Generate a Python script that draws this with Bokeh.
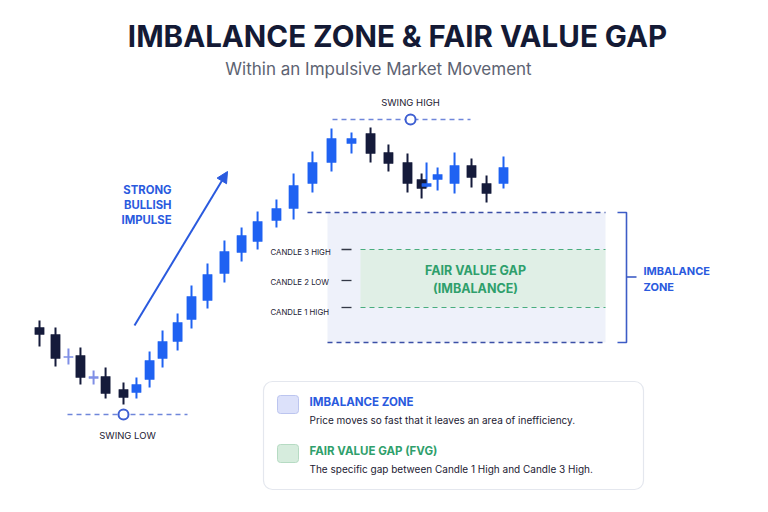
from bokeh.plotting import figure
from bokeh.models import Range1d, Label, Arrow, NormalHead, ColumnDataSource
from bokeh.embed import file_html
from bokeh.resources import INLINE

# ---------------- data ----------------
times = [0, 1, 1.81, 2.56, 3.38, 4.13, 5.25, 6.06, 6.88, 7.69, 8.63, 9.5, 10.5, 11.56,
         12.63, 13.63, 14.81, 15.88, 17.06, 18.25, 19.5, 20.69, 21.81, 23, 23.88, 24.19,
         24.88, 25.94, 27, 27.94, 29]
opens = [185, 178, 155, 157, 134, 136, 123, 120, 133, 154, 171, 193, 212, 239, 260, 271,
         292, 304, 329, 350, 369, 379, 360, 350, 333, 326, 333, 329, 347, 329, 329]
highs = [192, 185, 164, 165, 142, 145, 130, 135, 161, 182, 199, 227, 249, 272, 285, 301,
         313, 339, 361, 384, 380, 385, 368, 359, 339, 350, 345, 360, 354, 337, 356]
lows = [166, 146, 148, 128, 128, 114, 108, 114, 125, 145, 162, 184, 204, 230, 251, 263,
        285, 293, 320, 341, 359, 350, 341, 320, 314, 325, 322, 319, 325, 310, 324]
closes = [178, 154, 156, 135, 136, 119, 115, 128, 152, 171, 190, 216, 238, 261, 277, 291,
          304, 327, 350, 374, 374, 359, 349, 329, 324, 329, 338, 347, 335, 319, 345]
kinds = ["bear", "bear", "doji", "bear", "doji", "bear", "bear", "bull", "bull", "bull",
         "bull", "bull", "bull", "bull", "bull", "bull", "bull", "bull", "bull", "bull",
         "bull", "bear", "bear", "bear", "bear", "bull", "bull", "bull", "bear", "bear", "bull"]

imbalance_zone = [300, 170]   # top, bottom price
fvg_zone = [263, 205]         # candle 3 high, candle 1 high
candle2_low = 232
swing_high = [23.19, 393]     # time, price
swing_low = [5.25, 98]

title = "IMBALANCE ZONE & FAIR VALUE GAP"
subtitle = "Within an Impulsive Market Movement"

# ---------------- layout helpers (reference pixel -> data) ----------------
def X(px):
    return (px - 39) / 16.0

def Y(py):
    return 512 - py

BULL = "#1f62f2"
BEAR = "#151b3b"
DOJI = "#7f8fe6"
BLUE_TXT = "#2a5ade"
GREEN_TXT = "#2f9f6c"
DARK = "#1c2133"
FONT = "Inter"

p = figure(width=752, height=496, x_range=Range1d(X(0), X(752)), y_range=Range1d(Y(496), Y(0)),
           x_axis_type=None, y_axis_type=None, toolbar_location=None, output_backend="svg",
           min_border=0, outline_line_color=None)
p.background_fill_color = "white"
p.border_fill_color = "white"
p.grid.visible = False

# ---------------- zones ----------------
p.quad(left=X(327), right=X(605), top=imbalance_zone[0], bottom=imbalance_zone[1],
       fill_color="#eef1fa", line_color=None)
p.quad(left=X(360), right=X(605), top=fvg_zone[0], bottom=fvg_zone[1],
       fill_color="#e0efe6", line_color=None)
p.line([X(307), X(605)], [imbalance_zone[0]] * 2, line_color="#3b4fa6", line_width=1.3, line_dash="5 4")
p.line([X(327), X(605)], [imbalance_zone[1]] * 2, line_color="#3b4fa6", line_width=1.3, line_dash="5 4")
p.line([X(360), X(605)], [fvg_zone[0]] * 2, line_color="#49ad7e", line_width=1.2, line_dash="5 4")
p.line([X(360), X(605)], [fvg_zone[1]] * 2, line_color="#49ad7e", line_width=1.2, line_dash="5 4")

# bracket
BR = "#3d5cc6"
p.multi_line(xs=[[X(617), X(626), X(626), X(617)], [X(626), X(636)]],
             ys=[[imbalance_zone[0], imbalance_zone[0], imbalance_zone[1], imbalance_zone[1]],
                 [(imbalance_zone[0] + imbalance_zone[1]) / 2 + 0.5] * 2],
             line_color=BR, line_width=1.6)

# candle level ticks
for lvl in [fvg_zone[0], candle2_low, fvg_zone[1]]:
    p.line([X(341), X(351)], [lvl, lvl], line_color="#333846", line_width=1.3)

# ---------------- candles ----------------
cmap = {"bull": BULL, "bear": BEAR, "doji": DOJI}
colors = [cmap[k] for k in kinds]
tops = [max(o, c) for o, c in zip(opens, closes)]
bots = [min(o, c) for o, c in zip(opens, closes)]
src = ColumnDataSource(dict(t=times, hi=highs, lo=lows, top=tops, bot=bots, color=colors))
p.segment(x0="t", y0="lo", x1="t", y1="hi", source=src, line_color="color", line_width=2)
p.vbar(x="t", top="top", bottom="bot", width=0.58, source=src, fill_color="color", line_color="color", line_width=0.5)

# ---------------- swings ----------------
p.line([X(332), X(470)], [swing_high[1]] * 2, line_color="#6f86da", line_width=1.3, line_dash="5 4")
p.line([X(67), X(187)], [swing_low[1]] * 2, line_color="#6f86da", line_width=1.3, line_dash="5 4")
p.scatter([swing_high[0], swing_low[0]], [swing_high[1], swing_low[1]], marker="circle", size=10,
          fill_color="white", line_color="#3e5fd2", line_width=2)

# arrow
p.add_layout(Arrow(end=NormalHead(size=11, fill_color=BLUE_TXT, line_color=BLUE_TXT),
                   x_start=X(134), y_start=Y(325), x_end=X(227), y_end=Y(171),
                   line_color=BLUE_TXT, line_width=2))

# ---------------- legend box ----------------
p.quad(left=X(263), right=X(643), top=Y(381), bottom=Y(489), fill_color="white",
       line_color="#e4e7ee", line_width=1.2, border_radius=9)
p.quad(left=X(277), right=X(298), top=Y(395), bottom=Y(413), fill_color="#dce1fa",
       line_color="#bcc5ef", line_width=1, border_radius=3)
p.quad(left=X(277), right=X(298), top=Y(444), bottom=Y(462), fill_color="#d6ecdd",
       line_color="#b6dbc3", line_width=1, border_radius=3)


def label(px, py, text, size, color, bold=False, align="left"):
    p.add_layout(Label(x=X(px), y=Y(py), text=text, text_font=FONT,
                       text_font_size=f"{size}px", text_color=color,
                       text_font_style="bold" if bold else "normal",
                       text_align=align, text_baseline="middle"))


label(397, 35, title, 29.5, "#141a35", bold=True, align="center")
label(378, 68, subtitle, 17, "#5d6372", align="center")

label(410, 102, "SWING HIGH", 9.5, DARK, align="center")
label(127, 435, "SWING LOW", 9.5, DARK, align="center")

label(171, 189, "STRONG", 11.3, BLUE_TXT, bold=True, align="right")
label(171, 204, "BULLISH", 11.3, BLUE_TXT, bold=True, align="right")
label(171, 219, "IMPULSE", 11.3, BLUE_TXT, bold=True, align="right")

label(270, 251, "CANDLE 3 HIGH", 7.8, DARK)
label(270, 281, "CANDLE 2 LOW", 7.8, DARK)
label(270, 311, "CANDLE 1 HIGH", 7.8, DARK)

label(475, 270, "FAIR VALUE GAP", 12.5, GREEN_TXT, bold=True, align="center")
label(475, 288, "(IMBALANCE)", 12.5, GREEN_TXT, bold=True, align="center")

label(643, 270, "IMBALANCE", 11, BLUE_TXT, bold=True)
label(643, 286, "ZONE", 11, BLUE_TXT, bold=True)

label(309, 401, "IMBALANCE ZONE", 11.5, BLUE_TXT, bold=True)
label(309, 419, "Price moves so fast that it leaves an area of inefficiency.", 10, DARK)
label(309, 450, "FAIR VALUE GAP (FVG)", 11.5, GREEN_TXT, bold=True)
label(309, 468, "The specific gap between Candle 1 High and Candle 3 High.", 10, DARK)

open("out.html", "w").write(file_html(p, INLINE))
